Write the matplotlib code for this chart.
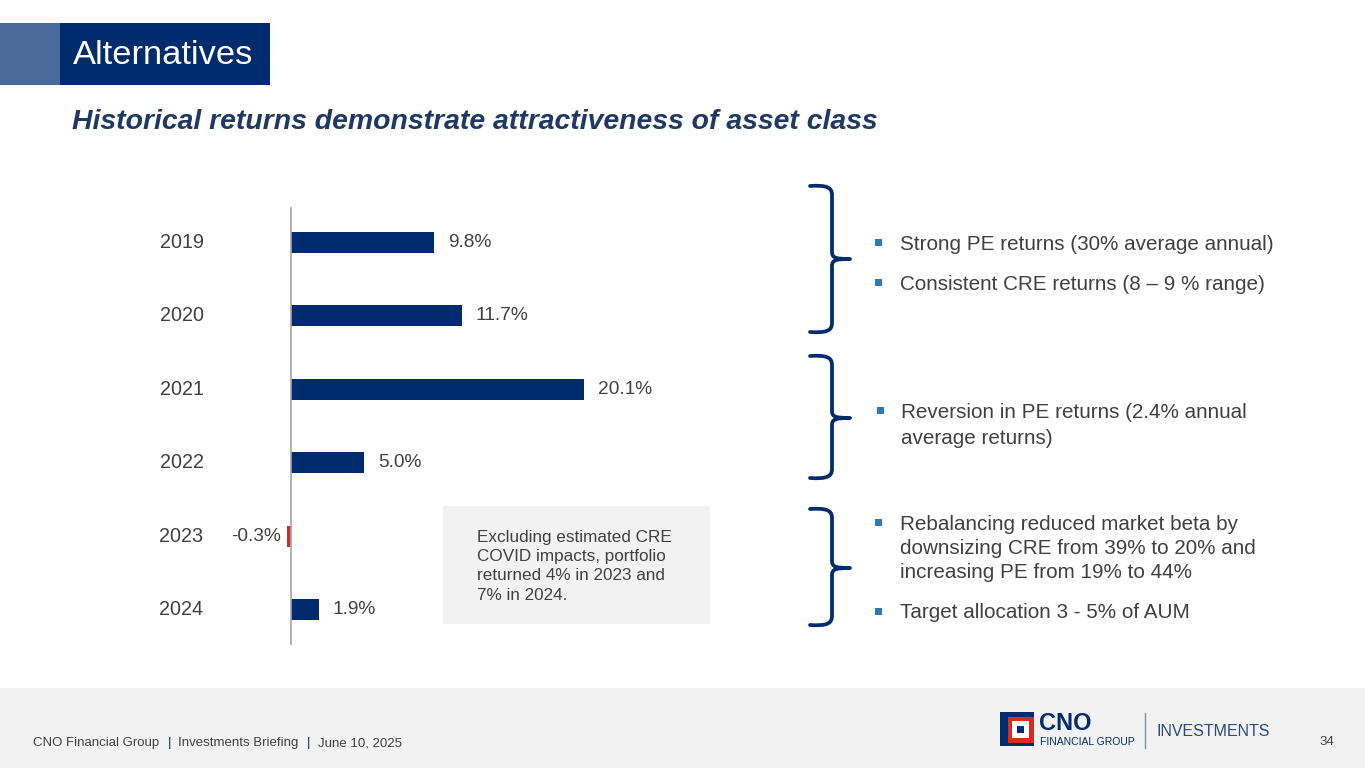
import matplotlib
matplotlib.use("Agg")
import matplotlib.pyplot as plt
from matplotlib.patches import Rectangle, PathPatch
from matplotlib.path import Path

plt.rcParams['font.family'] = ['Liberation Sans', 'DejaVu Sans']

# data
years = ['2019', '2020', '2021', '2022', '2023', '2024']
returns = [9.8, 11.7, 20.1, 5.0, -0.3, 1.9]
labels = ['9.8%', '11.7%', '20.1%', '5.0%', '-0.3%', '1.9%']

bullets_1 = [['Strong PE returns (30% average annual)'],
             ['Consistent CRE returns (8 – 9 % range)']]
bullets_2 = [['Reversion in PE returns (2.4% annual', 'average returns)']]
bullets_3 = [['Rebalancing reduced market beta by',
              'downsizing CRE from 39% to 20% and',
              'increasing PE from 19% to 44%'],
             ['Target allocation 3 - 5% of AUM']]
note = ['Excluding estimated CRE', 'COVID impacts, portfolio',
        'returned 4% in 2023 and', '7% in 2024.']

NAVY = '#002C6E'
RED = '#C8322C'
GREY_TXT = '#404040'
BULLET = '#2A7AB8'

W, H = 1365, 768
fig = plt.figure(figsize=(W / 100, H / 100), dpi=100)

# overlay in pixel coords for slide decoration
bg = fig.add_axes([0, 0, 1, 1])
bg.set_xlim(0, W)
bg.set_ylim(H, 0)
bg.axis('off')

# title block
bg.add_patch(Rectangle((0, 23), 60, 62, color='#4A6A9C', lw=0))
bg.add_patch(Rectangle((60, 23), 210, 62, color=NAVY, lw=0))
bg.text(73, 55, 'Alternatives', color='white', fontsize=24.8, va='center', ha='left')
bg.text(72, 122, 'Historical returns demonstrate attractiveness of asset class',
        color='#1F3864', fontsize=20.4, fontweight='bold', fontstyle='italic', va='center')

# footer
bg.add_patch(Rectangle((0, 688), W, 80, color='#F2F2F2', lw=0))
bg.text(33, 743, 'CNO Financial Group', fontsize=9.5, color=GREY_TXT, va='center')
bg.text(168, 743, '|', fontsize=9.5, color='#1F3864', va='center')
bg.text(178, 743, 'Investments Briefing', fontsize=9.5, color=GREY_TXT, va='center')
bg.text(307, 743, '|', fontsize=9.5, color='#1F3864', va='center')
bg.text(318, 743, 'June 10, 2025', fontsize=9.5, color=GREY_TXT, va='center')
bg.text(1327, 742, '34', fontsize=9.5, color=GREY_TXT, va='center', ha='center')

# logo
bg.add_patch(Rectangle((1000, 712), 34, 34, color=NAVY, lw=0))
bg.add_patch(Rectangle((1008, 717), 26, 26, color='#D42E1E', lw=0))
bg.add_patch(Rectangle((1012, 721), 17, 17, color='white', lw=0))
bg.add_patch(Rectangle((1017, 726), 7, 7, color=NAVY, lw=0))
bg.text(1039, 724, 'CNO', fontsize=17, fontweight='bold', color=NAVY, va='center')
bg.text(1040, 742, 'FINANCIAL GROUP', fontsize=7.5, color=NAVY, va='center')
bg.plot([1145, 1145], [713, 748], color='#8090A8', lw=1)
bg.text(1156, 731, 'INVESTMENTS', fontsize=11.5, color='#2C4A7C', va='center')

# note box
bg.add_patch(Rectangle((443, 506), 267, 118, color='#F2F2F2', lw=0))
for i, line in enumerate(note):
    bg.text(477, 542 + i * 19.2, line, fontsize=12.3, color=GREY_TXT,
            va='baseline', ha='left')


def brace(y0, y1, ym, x0=810, xv=832, tip=850):
    verts = [(x0, y0), (xv - 6, y0 - 1), (xv, y0 + 1), (xv, y0 + 9),
             (xv, ym - 7),
             (xv, ym - 1), (xv + 4, ym), (tip, ym),
             (xv + 4, ym), (xv, ym + 1), (xv, ym + 7),
             (xv, y1 - 9),
             (xv, y1 - 1), (xv - 6, y1 + 1), (x0, y1)]
    codes = [Path.MOVETO, Path.CURVE4, Path.CURVE4, Path.CURVE4,
             Path.LINETO,
             Path.CURVE4, Path.CURVE4, Path.CURVE4,
             Path.CURVE4, Path.CURVE4, Path.CURVE4,
             Path.LINETO,
             Path.CURVE4, Path.CURVE4, Path.CURVE4]
    bg.add_patch(PathPatch(Path(verts, codes), fill=False, edgecolor=NAVY,
                           lw=2.7, capstyle='round', joinstyle='round'))


brace(186, 332, 259)
brace(356, 478, 418)
brace(509, 625, 568)


def bullets(items, ys, xb=878, xt=900, step=24.5):
    for lines, y in zip(items, ys):
        bg.add_patch(Rectangle((xb - 3.5, y - 3.5), 7, 7, color=BULLET, lw=0))
        for i, line in enumerate(lines):
            bg.text(xt, y + 7.5 + i * step, line, fontsize=14.9, color=GREY_TXT,
                    va='baseline', ha='left')


bullets(bullets_1, [242, 282])
bullets(bullets_2, [410], xb=880, xt=901, step=26)
bullets(bullets_3, [522, 611])

# bar chart
L, R = 200, 700
px_per = 14.6
zero = 291
top, bot = 207, 645
ax = fig.add_axes([L / W, 1 - bot / H, (R - L) / W, (bot - top) / H])
ax.set_xlim((L - zero) / px_per, (R - zero) / px_per)
ax.set_ylim(len(years) - 0.52, -0.48)
ax.axis('off')
ypos = list(range(len(years)))
colors = [NAVY if v >= 0 else RED for v in returns]
ax.barh(ypos, returns, height=0.29, color=colors)
ax.axvline(0, color='#A6A6A6', lw=1.2)
for y, v, lab, yr in zip(ypos, returns, labels, years):
    if v >= 0:
        ax.text(v + 0.95, y, lab, va='center', ha='left', fontsize=13.8, color=GREY_TXT)
    else:
        ax.text(v - 0.4, y, lab, va='center', ha='right', fontsize=13.8, color=GREY_TXT)
    ax.text((181.5 - zero) / px_per, y, yr, va='center', ha='center', fontsize=14.2,
            color=GREY_TXT)

fig.savefig('out.png', dpi=100)
